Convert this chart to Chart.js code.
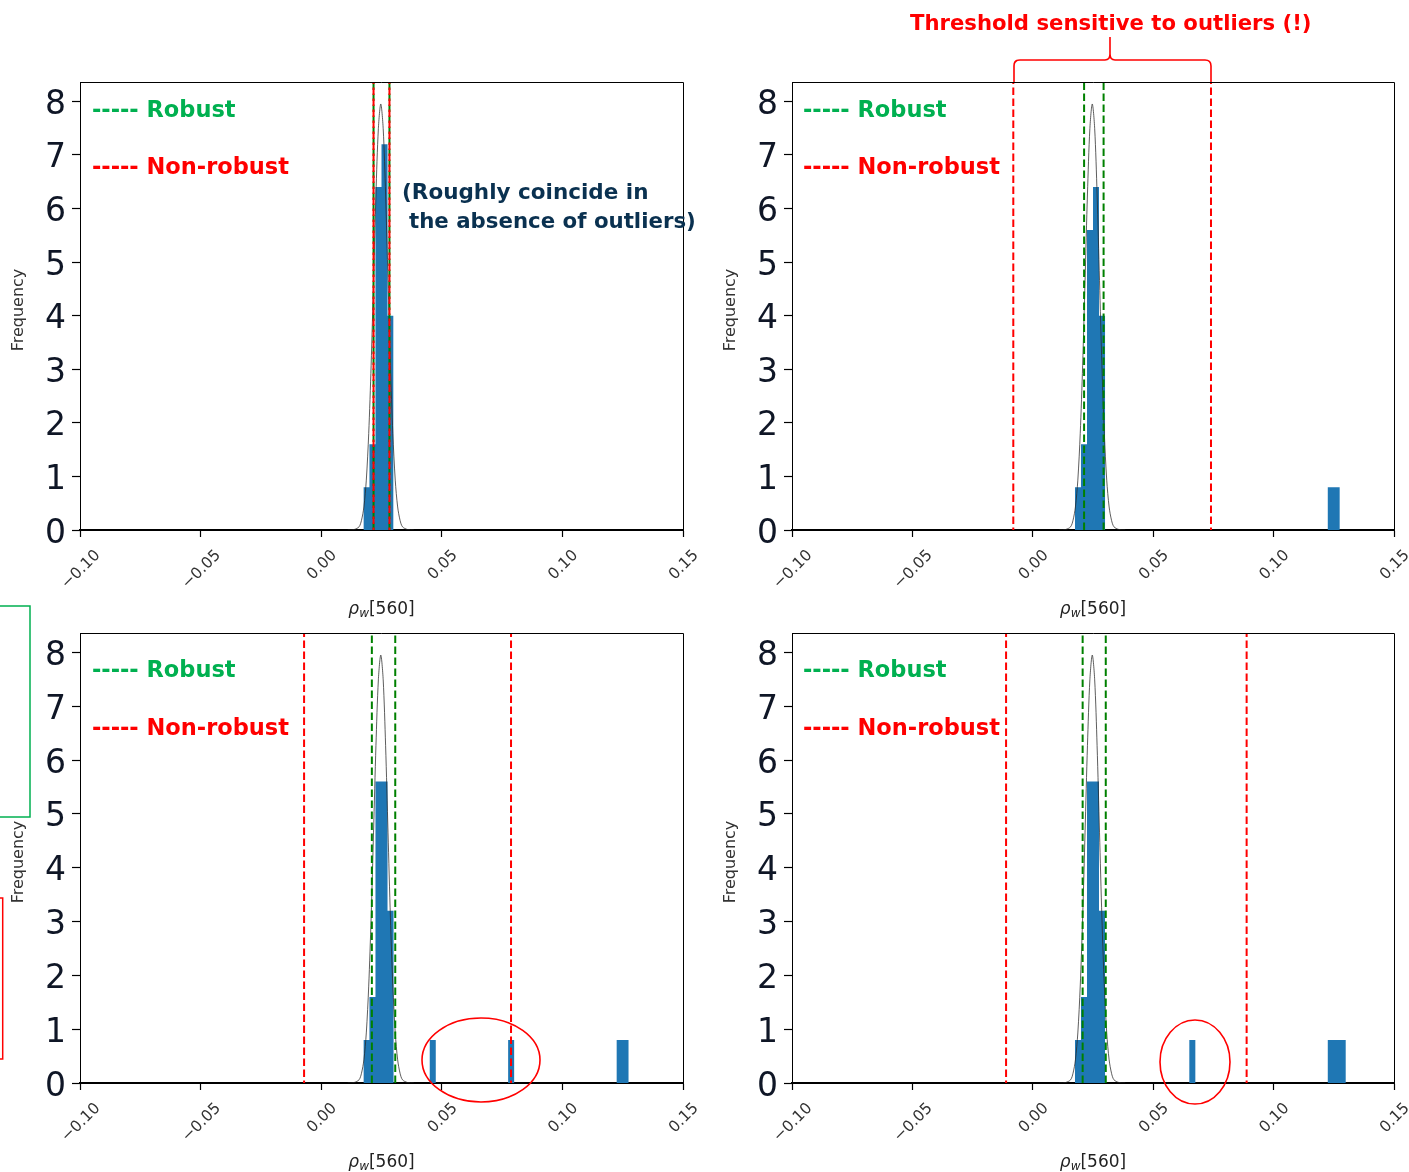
<!DOCTYPE html>
<html>
<head>
<meta charset="utf-8">
<script src="https://cdn.jsdelivr.net/npm/chart.js@4.4.1/dist/chart.umd.min.js"></script>
<style>
  html, body { margin: 0; padding: 0; background: #fff; }
  #wrap { position: relative; width: 1409px; height: 1172px; overflow: hidden; }
  canvas { position: absolute; }
  svg { position: absolute; left: 0; top: 0; }
  .t { position: absolute; white-space: nowrap; font-family: 'DejaVu Sans', sans-serif; font-weight: bold;
       font-size: 22.5px; line-height: 1; transform: translateY(-50%); }
  .g { color: #00b050; }
  .r { color: #ff0000; }
  .n { color: #0a3150; }
</style>
</head>
<body>
<div id="wrap">
  <canvas id="pTL" width="704" height="620" style="left:0;top:0;width:704px;height:620px"></canvas>
  <canvas id="pTR" width="705" height="620" style="left:704px;top:0;width:705px;height:620px"></canvas>
  <canvas id="pBL" width="704" height="572" style="left:0;top:600px;width:704px;height:572px"></canvas>
  <canvas id="pBR" width="705" height="572" style="left:704px;top:600px;width:705px;height:572px"></canvas>

  <svg width="1409" height="1172">
    <path d="M1014,82 V66 Q1014,60 1020,60 H1105 Q1110,60 1110,54 V37 M1110,54 Q1110,60 1115,60 H1205 Q1211,60 1211,66 V82"
          fill="none" stroke="#ff0000" stroke-width="1.6"/>
    <ellipse cx="481" cy="1060" rx="59" ry="42" fill="none" stroke="#ff0000" stroke-width="1.6"/>
    <ellipse cx="1195" cy="1062" rx="35" ry="42" fill="none" stroke="#ff0000" stroke-width="1.6"/>
    <rect x="-5" y="606" width="35" height="211" fill="none" stroke="#00b050" stroke-width="1.5"/>
    <rect x="-5" y="898" width="7.7" height="161" fill="none" stroke="#ff0000" stroke-width="1.5"/>
  </svg>

  <div class="t r" style="left:910px;top:23px;font-size:21.2px">Threshold sensitive to outliers (!)</div>

  <div class="t g" style="left:92px;top:109px">----- Robust</div>
  <div class="t r" style="left:92px;top:166px">----- Non-robust</div>
  <div class="t n" style="left:402px;top:192px;font-size:21.5px">(Roughly coincide in</div>
  <div class="t n" style="left:409px;top:221px;font-size:21.3px">the absence of outliers)</div>

  <div class="t g" style="left:803px;top:109px">----- Robust</div>
  <div class="t r" style="left:803px;top:166px">----- Non-robust</div>

  <div class="t g" style="left:92px;top:669px">----- Robust</div>
  <div class="t r" style="left:92px;top:727px">----- Non-robust</div>

  <div class="t g" style="left:803px;top:669px">----- Robust</div>
  <div class="t r" style="left:803px;top:727px">----- Non-robust</div>
</div>

<script>
// ---------- data ----------
const xTicks = [-0.10, -0.05, 0.00, 0.05, 0.10, 0.15];
const yTicks = [0, 1, 2, 3, 4, 5, 6, 7, 8];
const yMax = 8.36;

// fitted curve (same in all four panels)
const curveX = [0.011, 0.0137, 0.0157, 0.0167, 0.0177, 0.0187, 0.0197, 0.0207, 0.0217, 0.0227, 0.0237, 0.0247,
                0.0257, 0.0267, 0.0277, 0.0287, 0.0297, 0.0307, 0.0317, 0.0327, 0.0337, 0.0357, 0.0384];
const curveY = [0, 0.01, 0.06, 0.18, 0.43, 0.93, 1.80, 3.07, 4.66, 6.27, 7.49, 7.95,
                7.49, 6.27, 4.66, 3.07, 1.80, 0.93, 0.43, 0.18, 0.06, 0.01, 0];

// histogram bins: left edge, right edge, height
const tlLeft  = [0.0175, 0.02, 0.0225, 0.025, 0.0275];
const tlRight = [0.02, 0.0225, 0.025, 0.0275, 0.03];
const tlCount = [0.8, 1.6, 6.4, 7.2, 4.0];

const trLeft  = [0.0175, 0.02, 0.0225, 0.025, 0.0275, 0.1225, 0.125];
const trRight = [0.02, 0.0225, 0.025, 0.0275, 0.03, 0.125, 0.1275];
const trCount = [0.8, 1.6, 5.6, 6.4, 4.0, 0.8, 0.8];

const blLeft  = [0.0175, 0.02, 0.0225, 0.025, 0.0275, 0.045, 0.0775, 0.1225, 0.125];
const blRight = [0.02, 0.0225, 0.025, 0.0275, 0.03, 0.0475, 0.08, 0.125, 0.1275];
const blCount = [0.8, 1.6, 5.6, 5.6, 3.2, 0.8, 0.8, 0.8, 0.8];

const brLeft  = [0.0175, 0.02, 0.0225, 0.025, 0.0275, 0.065, 0.1225, 0.125, 0.1275];
const brRight = [0.02, 0.0225, 0.025, 0.0275, 0.03, 0.0675, 0.125, 0.1275, 0.13];
const brCount = [0.8, 1.6, 5.6, 5.6, 3.2, 0.8, 0.8, 0.8, 0.8];

// threshold lines
const tlRobust = [0.0217, 0.0283], tlNonRobust = [0.0217, 0.0283];
const trRobust = [0.0213, 0.0294], trNonRobust = [-0.0081, 0.074];
const blRobust = [0.0210, 0.0307], blNonRobust = [-0.0071, 0.0787];
const brRobust = [0.0207, 0.0303], brNonRobust = [-0.0111, 0.0888];

// ---------- helpers ----------
function histPoints(left, right, count) {
  const pts = [];
  for (let i = 0; i < left.length; i++) {
    pts.push({x: left[i], y: count[i]});
    if (i === left.length - 1 || Math.abs(left[i + 1] - right[i]) > 1e-9) pts.push({x: right[i], y: 0});
  }
  return pts;
}

function vline(x, color, offset) {
  return {
    type: 'line', data: [{x: x, y: 0}, {x: x, y: yMax}],
    borderColor: color, borderWidth: 2, borderDash: [7.5, 3.5], borderDashOffset: offset,
    pointRadius: 0, fill: false
  };
}

const framePlugin = {
  id: 'frame',
  afterDraw(chart, args, opts) {
    const {ctx, chartArea: a} = chart;
    const xs = chart.scales.x;
    ctx.save();
    // top + right spines
    ctx.strokeStyle = '#000';
    ctx.lineWidth = 1;
    ctx.beginPath();
    ctx.moveTo(a.left, a.top + 0.5); ctx.lineTo(a.right + 0.5, a.top + 0.5); ctx.lineTo(a.right + 0.5, a.bottom);
    ctx.stroke();

    // rotated x tick labels, centred under each tick
    ctx.font = '15.5px "DejaVu Sans"';
    ctx.fillStyle = '#333';
    ctx.textAlign = 'center';
    ctx.textBaseline = 'middle';
    xTicks.forEach(v => {
      const lbl = v.toFixed(2).replace('-', '\u2212');
      const w = ctx.measureText(lbl).width;
      const box = (w + 11) * 0.7071;
      const px = xs.getPixelForValue(v);
      ctx.save();
      ctx.translate(px + 1, a.bottom + 19 + box / 2);
      ctx.rotate(-Math.PI / 4);
      ctx.fillText(lbl, 0, 0);
      ctx.restore();
    });

    // x title: rho_w[560]
    const cx = (a.left + a.right) / 2, cy = a.bottom + 78;
    ctx.textAlign = 'left';
    ctx.textBaseline = 'alphabetic';
    ctx.font = 'italic 17px "DejaVu Sans"';
    const w1 = ctx.measureText('\u03c1').width;
    ctx.font = 'italic 12px "DejaVu Sans"';
    const w2 = ctx.measureText('w').width;
    ctx.font = '17px "DejaVu Sans"';
    const w3 = ctx.measureText('[560]').width;
    let x0 = cx - (w1 + w2 + w3) / 2;
    ctx.fillStyle = '#222';
    ctx.font = 'italic 17px "DejaVu Sans"';
    ctx.fillText('\u03c1', x0, cy + 6);
    ctx.font = 'italic 12px "DejaVu Sans"';
    ctx.fillText('w', x0 + w1, cy + 9);
    ctx.font = '17px "DejaVu Sans"';
    ctx.fillText('[560]', x0 + w1 + w2, cy + 6);

    // y title
    ctx.save();
    ctx.translate(opts.yTitleX, (a.top + a.bottom) / 2 + 4);
    ctx.rotate(-Math.PI / 2);
    ctx.font = '16px "DejaVu Sans"';
    ctx.fillStyle = '#333';
    ctx.textAlign = 'center';
    ctx.textBaseline = 'middle';
    ctx.fillText('Frequency', 0, 0);
    ctx.restore();
    ctx.restore();
  }
};

// ---------- panels ----------
function makePanel(id, box, area, left, right, count, robust, nonRobust, yTitleX) {
  const yw = area.left - box.left;
  const padTop = area.top - box.top;
  const padRight = box.left + box.w - area.right;
  const xh = box.top + box.h - area.bottom;

  const datasets = [
    vline(nonRobust[0], '#ff0000', 5), vline(nonRobust[1], '#ff0000', 5),
    vline(robust[0], '#008000', 0), vline(robust[1], '#008000', 0),
    {
      type: 'line', data: curveX.map((x, i) => ({x: x, y: curveY[i]})),
      borderColor: 'rgba(40,40,40,0.75)', borderWidth: 1, pointRadius: 0, fill: false, tension: 0.3
    },
    {
      type: 'line', data: histPoints(left, right, count), stepped: true,
      borderColor: 'rgba(0,0,0,0)', borderWidth: 0, backgroundColor: '#1f77b4',
      pointRadius: 0, fill: 'origin'
    }
  ];

  return new Chart(document.getElementById(id), {
    type: 'line',
    data: {datasets},
    plugins: [framePlugin],
    options: {
      responsive: false,
      animation: false,
      devicePixelRatio: 1,
      events: [],
      layout: {padding: {top: padTop, right: padRight, left: 0, bottom: 0}},
      plugins: {legend: {display: false}, tooltip: {enabled: false}, frame: {yTitleX: yTitleX}},
      scales: {
        x: {
          type: 'linear', min: -0.1, max: 0.15,
          afterBuildTicks: s => { s.ticks = xTicks.map(v => ({value: v})); },
          afterFit: s => { s.height = xh; },
          ticks: {display: false},
          grid: {drawOnChartArea: false, drawTicks: true, tickLength: 7, color: '#000', tickWidth: 1.2},
          border: {display: true, color: '#000', width: 2}
        },
        y: {
          type: 'linear', min: 0, max: yMax,
          afterBuildTicks: s => { s.ticks = yTicks.map(v => ({value: v})); },
          afterFit: s => { s.width = yw; },
          ticks: {font: {family: 'DejaVu Sans', size: 33}, color: '#0f1626', padding: 6, labelOffset: 4},
          grid: {drawOnChartArea: false, drawTicks: true, tickLength: 8, color: '#000', tickWidth: 1.2},
          border: {display: true, color: '#000', width: 1}
        }
      }
    }
  });
}

makePanel('pTL', {left: 0, top: 0, w: 704, h: 620}, {left: 80, top: 82, right: 683, bottom: 530},
  tlLeft, tlRight, tlCount, tlRobust, tlNonRobust, 19);
makePanel('pTR', {left: 704, top: 0, w: 705, h: 620}, {left: 792, top: 82, right: 1394, bottom: 530},
  trLeft, trRight, trCount, trRobust, trNonRobust, 27);
makePanel('pBL', {left: 0, top: 600, w: 704, h: 572}, {left: 80, top: 633, right: 683, bottom: 1083},
  blLeft, blRight, blCount, blRobust, blNonRobust, 19);
makePanel('pBR', {left: 704, top: 600, w: 705, h: 572}, {left: 792, top: 633, right: 1394, bottom: 1083},
  brLeft, brRight, brCount, brRobust, brNonRobust, 27);
</script>
</body>
</html>
